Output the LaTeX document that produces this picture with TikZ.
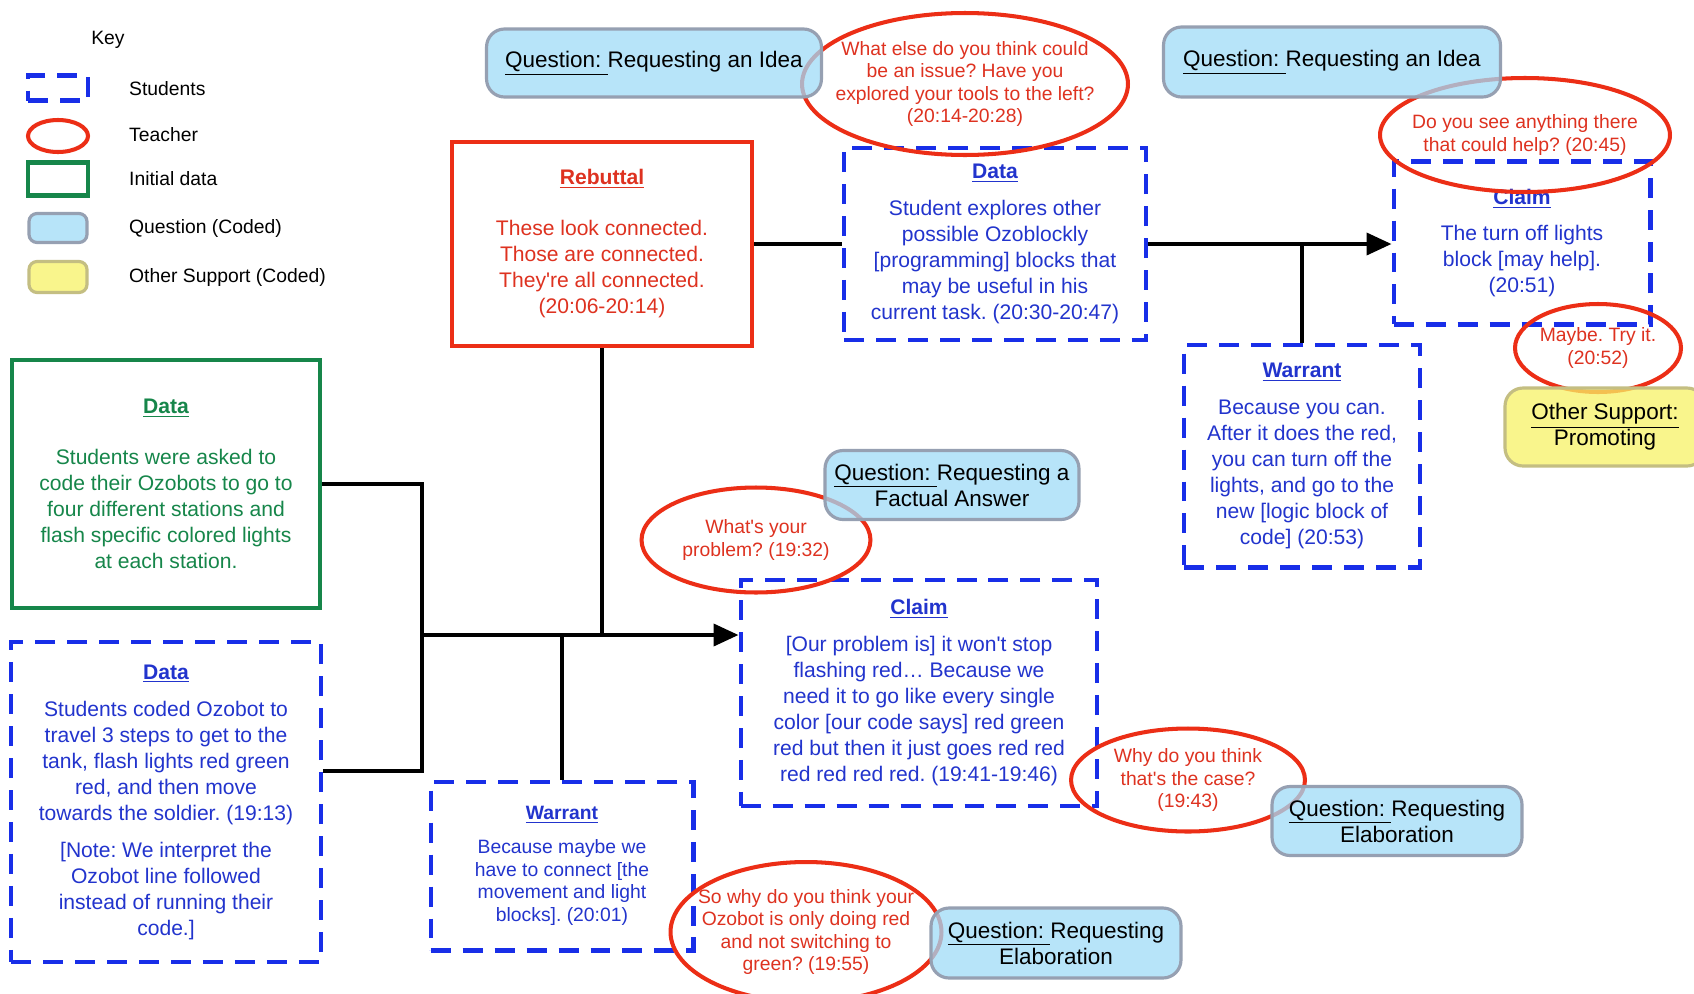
\documentclass[tikz,border=0pt]{standalone}
\usepackage{fontspec}
\setmainfont{Liberation Sans}
\usepackage{xcolor}
\definecolor{studBlue}{RGB}{24,46,232}
\definecolor{studText}{RGB}{34,52,205}
\definecolor{teachRed}{RGB}{236,46,22}
\definecolor{teachText}{RGB}{222,50,32}
\definecolor{initGreen}{RGB}{22,134,74}
\definecolor{quesFill}{RGB}{160,219,248}
\definecolor{quesEdge}{RGB}{150,160,178}
\definecolor{otherFill}{RGB}{248,242,102}
\definecolor{otherEdge}{RGB}{196,190,130}
\usepackage{tikz}
\usetikzlibrary{arrows.meta, shapes.geometric, calc}
\newcommand{\boxhead}[1]{\underline{\textbf{#1}}}
\frenchspacing

\begin{document}
\begin{tikzpicture}[x=0.02cm, y=-0.02cm,
		% body text of the argument boxes
		bodyText/.style={
			align=center,
			inner sep=0pt,
			font=\fontsize{12}{14.8}\selectfont
		},
		studBox/.style={bodyText, draw=studBlue, text=studText, line width=2.3pt, dash pattern=on 0.4cm off 0.24cm},
		rebutBox/.style={bodyText, draw=teachRed, text=teachText, line width=2.3pt},
		initBox/.style={bodyText, draw=initGreen, text=initGreen, line width=2.3pt},
		teachOval/.style={ellipse, draw=teachRed, line width=2.3pt, inner sep=0pt},
		teachWords/.style={
			text=teachText,
			align=center,
			inner sep=0pt,
			font=\fontsize{11}{12.8}\selectfont
		},
		teachRing/.style={draw=teachRed, line width=2.3pt},
		quesBox/.style={
			rounded corners=0.36cm,
			draw=quesEdge,
			fill=quesFill,
			fill opacity=0.75,
			text opacity=1,
			line width=1.8pt,
			align=center,
			inner sep=0pt,
			font=\fontsize{12.8}{14.8}\selectfont
		},
		otherBox/.style={quesBox, draw=otherEdge, fill=otherFill},
		keyLabel/.style={anchor=west, font=\fontsize{11}{13}\selectfont},
		link/.style={line width=2.2pt, black}
		]
		
		\useasboundingbox (0,0) rectangle (1694,994);
		\fill[white] (0,0) rectangle (1694,994);
		
		% key
		\node[font=\fontsize{11}{13}\selectfont] (keyHead) at (108,40) {Key};
		\node[studBox, minimum width=1.2cm, minimum height=0.5cm] (keyStud) at (58,88) {};
		\node[teachOval, minimum width=1.2cm, minimum height=0.64cm] (keyTeach) at (58,136) {};
		\node[initBox, minimum width=1.2cm, minimum height=0.66cm] (keyInit) at (58,179) {};
		\node[quesBox, rounded corners=0.16cm, minimum width=1.16cm, minimum height=0.58cm] (keyQues) at (58,228) {};
		\node[otherBox, rounded corners=0.16cm, minimum width=1.16cm, minimum height=0.62cm] (keyOther) at (58,277) {};
		\node[keyLabel] (keyStudText) at (123,89) {Students};
		\node[keyLabel] (keyTeachText) at (123,135) {Teacher};
		\node[keyLabel] (keyInitText) at (123,179) {Initial data};
		\node[keyLabel] (keyQuesText) at (123,228) {Question (Coded)};
		\node[keyLabel] (keyOtherText) at (123,277) {Other Support (Coded)};
		
		% first argument
		\node[initBox, minimum width=6.16cm, minimum height=4.96cm] (dataInit) at (166,484) {
			\boxhead{Data}\\[0.5cm] Students were asked to\\code their Ozobots to go to\\four different stations and\\flash specific colored lights\\at each station.
		};
		\node[studBox, minimum width=6.2cm, minimum height=6.4cm] (dataA) at (166,802) {
			\boxhead{Data}\\[0.22cm] Students coded Ozobot to\\travel 3 steps to get to the\\tank, flash lights red green\\red, and then move\\towards the soldier. (19:13)\\[0.22cm] {[}Note: We interpret the\\Ozobot line followed\\instead of running their\\code.{]}
		};
		\node[studBox, minimum width=7.14cm, minimum height=4.52cm] (claimA) at (919,693) {
			\boxhead{Claim}\\[0.22cm] {[}Our problem is{]} it won\textquotesingle t stop\\flashing red… Because we\\need it to go like every single\\color {[}our code says{]} red green\\red but then it just goes red red\\red red red red. (19:41-19:46)
		};
		\node[studBox, font=\fontsize{11}{13}\selectfont, minimum width=5.26cm, minimum height=3.38cm] (warrantA) at (562,866) {
			\boxhead{Warrant}\\[0.22cm] Because maybe we\\have to connect {[}the\\movement and light\\blocks{]}. (20:01)
		};
		\node[rebutBox, minimum width=6.02cm, minimum height=4.08cm] (rebuttal) at (602,244) {
			\boxhead{Rebuttal}\\[0.5cm] These look connected.\\Those are connected.\\They\textquotesingle re all connected.\\(20:06-20:14)
		};
		
		% second argument
		\node[studBox, minimum width=6.04cm, minimum height=3.84cm] (dataB) at (995,244) {
			\boxhead{Data}\\[0.22cm] Student explores other\\possible Ozoblockly\\{[}programming{]} blocks that\\may be useful in his\\current task. (20:30-20:47)
		};
		\node[studBox, minimum width=5.14cm, minimum height=3.26cm] (claimB) at (1522,243) {
			\boxhead{Claim}\\[0.2cm] The turn off lights\\block {[}may help{]}.\\(20:51)
		};
		\node[studBox, minimum width=4.72cm, minimum height=4.46cm] (warrantB) at (1302,456) {
			\boxhead{Warrant}\\[0.22cm] Because you can.\\After it does the red,\\you can turn off the\\lights, and go to the\\new {[}logic block of\\code{]} (20:53)
		};
		
		% connectors
		\coordinate (join) at (422,635);
		\coordinate (dataAout) at ($(dataA.east)+(0,-31)$);
		\draw[link] (dataInit.east) -| (join);
		\draw[link] (dataAout) -| (join);
		\draw[link, -{Triangle[length=0.5cm, width=0.44cm]}] (join) -- (join -| claimA.west);
		\draw[link] (rebuttal.south) -- (rebuttal.south |- join);
		\draw[link] (warrantA.north) -- (warrantA.north |- join);
		\draw[link] (rebuttal.east) -- (dataB.west);
		\draw[link, -{Triangle[length=0.5cm, width=0.44cm]}] (dataB.east) -- (dataB.east -| claimB.west);
		\draw[link] (warrantB.north) -- (warrantB.north |- dataB.east);
		
		% teacher moves
		\node[teachWords] (tElse) at (965,84) {
			What else do you think could\\be an issue? Have you\\explored your tools to the left?\\(20:14-20:28)
		};
		\draw[teachRing] (tElse) ellipse [x radius=3.26cm, y radius=1.42cm];
		\node[teachWords] (tSee) at (1525,135) {
			Do you see anything there\\that could help? (20:45)
		};
		\draw[teachRing] (tSee) ellipse [x radius=2.9cm, y radius=1.14cm];
		\node[teachWords] (tMaybe) at (1598,348) {
			Maybe. Try it.\\(20:52)
		};
		\draw[teachRing] (tMaybe) ellipse [x radius=1.66cm, y radius=0.88cm];
		\node[teachWords] (tProb) at (756,540) {
			What\textquotesingle s your\\problem? (19:32)
		};
		\draw[teachRing] (tProb) ellipse [x radius=2.29cm, y radius=1.05cm];
		\node[teachWords] (tCase) at (1188,780) {
			Why do you think\\that\textquotesingle s the case?\\(19:43)
		};
		\draw[teachRing] (tCase) ellipse [x radius=2.34cm, y radius=1.03cm];
		\node[teachWords] (tWhy) at (806,932) {
			So why do you think your\\Ozobot is only doing red\\and not switching to\\green? (19:55)
		};
		\draw[teachRing] (tWhy) ellipse [x radius=2.71cm, y radius=1.4cm];
		
		% coded questions
		\node[quesBox, minimum width=6.7cm, minimum height=1.36cm] (qIdeaA) at (654,63) {\underline{Question:\ }Requesting an Idea};
		\node[quesBox, minimum width=6.74cm, minimum height=1.4cm] (qIdeaB) at (1332,62) {\underline{Question:\ }Requesting an Idea};
		\node[quesBox, minimum width=5.08cm, minimum height=1.38cm] (qFact) at (952,485) {\underline{Question:\ }Requesting a\\Factual Answer};
		\node[quesBox, minimum width=5cm, minimum height=1.38cm] (qElabB) at (1397,821) {\underline{Question:\ }Requesting\\Elaboration};
		\node[quesBox, minimum width=5cm, minimum height=1.4cm] (qElabA) at (1056,943) {\underline{Question:\ }Requesting\\Elaboration};
		\node[otherBox, minimum width=4cm, minimum height=1.56cm] (oSupport) at (1605,427) {\underline{Other Support:}\\Promoting};
		
	\end{tikzpicture}
\end{document}
